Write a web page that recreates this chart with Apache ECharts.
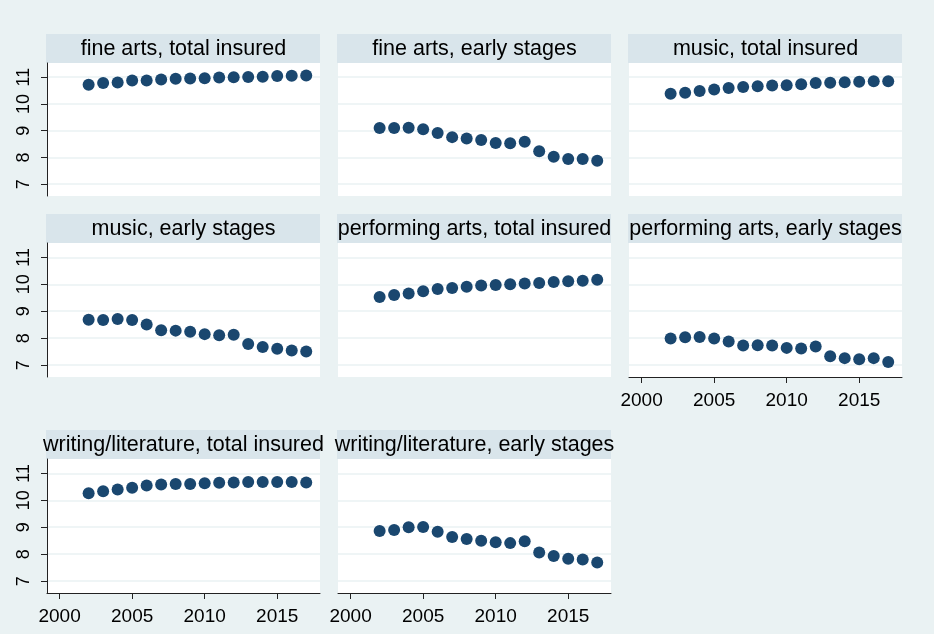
<!DOCTYPE html>
<html>
<head>
<meta charset="utf-8">
<script src="https://cdn.jsdelivr.net/npm/echarts@6/dist/echarts.min.js"></script>
<style>
  html, body { margin: 0; padding: 0; background: #EAF2F3; }
  #chart { width: 934px; height: 634px; }
</style>
</head>
<body>
<div id="chart"></div>
<script>
// 年份 (x 轴)
const years = [2002, 2003, 2004, 2005, 2006, 2007, 2008, 2009, 2010, 2011, 2012, 2013, 2014, 2015, 2016, 2017]

// 各面板的数值 (log scale)
const fineArtsTotal = [10.72, 10.78, 10.80, 10.88, 10.88, 10.91, 10.94, 10.95, 10.96, 10.99, 11.00, 11.01, 11.02, 11.04, 11.05, 11.06]
const fineArtsEarly = [9.10, 9.10, 9.11, 9.05, 8.91, 8.76, 8.71, 8.65, 8.54, 8.53, 8.59, 8.23, 8.03, 7.94, 7.94, 7.88]
const musicTotal = [10.38, 10.42, 10.48, 10.54, 10.60, 10.63, 10.66, 10.69, 10.70, 10.74, 10.78, 10.79, 10.81, 10.83, 10.85, 10.85]
const musicEarly = [8.68, 8.67, 8.71, 8.67, 8.51, 8.29, 8.28, 8.24, 8.15, 8.11, 8.13, 7.78, 7.67, 7.61, 7.54, 7.51]
const performingTotal = [9.53, 9.60, 9.66, 9.74, 9.82, 9.86, 9.91, 9.95, 9.97, 10.00, 10.03, 10.05, 10.08, 10.11, 10.13, 10.17]
const performingEarly = [7.99, 8.03, 8.04, 7.99, 7.88, 7.73, 7.74, 7.73, 7.64, 7.62, 7.69, 7.33, 7.26, 7.22, 7.26, 7.12]
const writingTotal = [10.26, 10.33, 10.40, 10.46, 10.55, 10.58, 10.60, 10.60, 10.63, 10.65, 10.66, 10.68, 10.68, 10.68, 10.68, 10.66]
const writingEarly = [8.86, 8.90, 9.00, 9.01, 8.83, 8.64, 8.56, 8.50, 8.44, 8.41, 8.48, 8.06, 7.93, 7.83, 7.80, 7.69]

const panelTitles = [
  'fine arts, total insured', 'fine arts, early stages', 'music, total insured',
  'music, early stages', 'performing arts, total insured', 'performing arts, early stages',
  'writing/literature, total insured', 'writing/literature, early stages'
]
const panelValues = [
  fineArtsTotal, fineArtsEarly, musicTotal,
  musicEarly, performingTotal, performingEarly,
  writingTotal, writingEarly
]

// 刻度
const yTicks = [7, 8, 9, 10, 11]
const xTicks = [2000, 2005, 2010, 2015]

// 面板布局
const colLeft = [47, 338, 629]
const plotWidth = 273
const headerTop = [34, 214, 430]
const headerHeight = 29
const plotTop = [63, 243, 459]
const plotHeight = [133, 134, 134]
// 带 x 轴的面板 (每列最下面一个)
const showXAxis = [false, false, false, false, false, true, true, true]

const font = 'Liberation Sans, Arial, sans-serif'
const bg = '#EAF2F3'

const grids = []
const xAxes = []
const yAxes = []
const series = []
const graphics = []

panelTitles.forEach((title, i) => {
  const row = Math.floor(i / 3)
  const col = i % 3
  grids.push({
    left: colLeft[col],
    top: plotTop[row],
    width: plotWidth,
    height: plotHeight[row],
    show: true,
    backgroundColor: '#fff',
    borderWidth: 0
  })
  const withX = showXAxis[i]
  xAxes.push({
    type: 'value',
    gridIndex: i,
    min: 1999.13,
    max: 2017.95,
    axisLine: {show: withX, onZero: false, lineStyle: {color: '#222', width: 1}},
    axisTick: {show: withX, length: 6, customValues: xTicks, lineStyle: {color: '#222'}},
    axisLabel: {
      show: withX, customValues: xTicks, margin: 14,
      formatter: v => String(v), // 不要千位分隔符
      color: '#000', fontSize: 19, fontFamily: font
    },
    splitLine: {show: false}
  })
  const withY = col === 0
  yAxes.push({
    type: 'value',
    gridIndex: i,
    min: 6.56,
    max: 11.53,
    axisLine: {show: withY, lineStyle: {color: '#222', width: 1}},
    axisTick: {show: withY, length: 6, customValues: yTicks, lineStyle: {color: '#222'}},
    axisLabel: {
      show: withY, customValues: yTicks, rotate: 90, margin: 14,
      color: '#000', fontSize: 18, fontFamily: font
    },
    splitLine: {show: true, lineStyle: {color: bg, width: 1.5}}
  })
  series.push({
    type: 'scatter',
    xAxisIndex: i,
    yAxisIndex: i,
    symbol: 'circle',
    symbolSize: 12,
    itemStyle: {color: '#1A476F', opacity: 1},
    data: years.map((y, k) => [y, panelValues[i][k]])
  })
  // 面板标题栏
  graphics.push({
    type: 'rect',
    shape: {x: colLeft[col] - 1, y: headerTop[row], width: plotWidth + 1, height: headerHeight},
    style: {fill: '#D9E5EB'}
  })
  graphics.push({
    type: 'text',
    x: colLeft[col] + plotWidth / 2,
    y: headerTop[row] + headerHeight / 2 + 1,
    style: {
      text: title,
      font: '21.5px ' + font,
      fill: '#000',
      align: 'center',
      verticalAlign: 'middle',
      textAlign: 'center',
      textVerticalAlign: 'middle'
    }
  })
})

const chart = echarts.init(document.getElementById('chart'))
chart.setOption({
  backgroundColor: bg,
  animation: false,
  grid: grids,
  xAxis: xAxes,
  yAxis: yAxes,
  series: series,
  graphic: graphics
})
</script>
</body>
</html>
